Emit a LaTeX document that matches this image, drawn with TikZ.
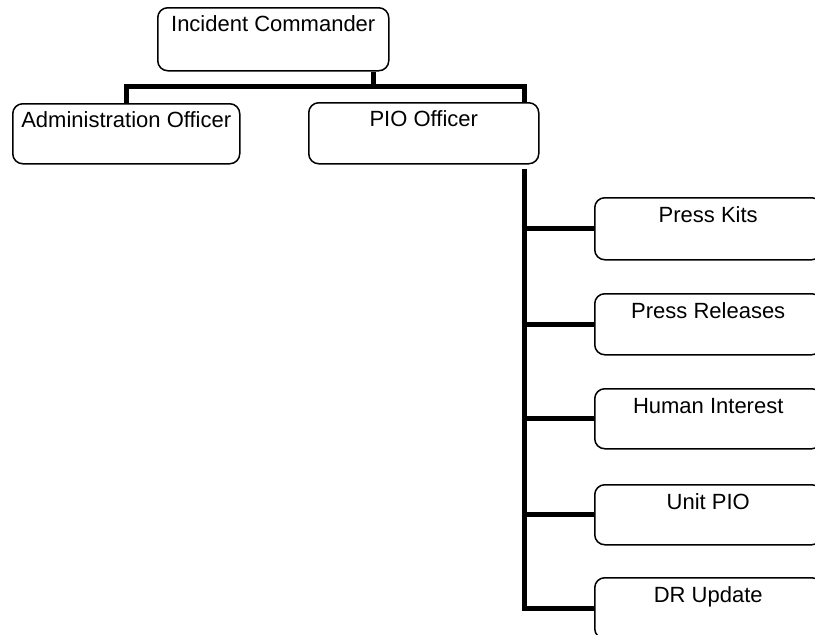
\documentclass[tikz,border=0pt]{standalone}
\usepackage{fontspec}
\setmainfont{Liberation Sans}
\begin{document}
\begin{tikzpicture}[x=1pt,y=-1pt,
  orgbox/.style={draw=black, line width=1.5pt, rounded corners=10pt,
    anchor=north west, inner sep=0pt, align=center,
    font=\fontsize{22}{24}\selectfont},
  bar/.style={line width=5pt, line cap=butt, line join=miter}]
  \useasboundingbox (0,0) rectangle (815,635);
  \clip (0,0) rectangle (815,635);

  % top level
  \node[orgbox, minimum width=231pt, minimum height=63pt, text height=24pt, text depth=39pt]
    (ic) at (157,7) {Incident Commander};

  % second level
  \node[orgbox, minimum width=227pt, minimum height=60pt, text height=24pt, text depth=36pt]
    (adm) at (12,103) {Administration Officer};
  \node[orgbox, minimum width=230pt, minimum height=61pt, text height=24pt, text depth=37pt]
    (pio) at (308,102) {PIO Officer};

  % PIO staff
  \node[orgbox, minimum width=227pt, minimum height=62pt, text height=25pt, text depth=37pt]
    (pk) at (594,197) {Press Kits};
  \node[orgbox, minimum width=227pt, minimum height=61pt, text height=25pt, text depth=36pt]
    (pr) at (594,293) {Press Releases};
  \node[orgbox, minimum width=227pt, minimum height=60pt, text height=25pt, text depth=35pt]
    (hi) at (594,388) {Human Interest};
  \node[orgbox, minimum width=227pt, minimum height=60pt, text height=25pt, text depth=35pt]
    (up) at (594,484) {Unit PIO};
  \node[orgbox, minimum width=227pt, minimum height=61pt, text height=25pt, text depth=36pt]
    (dr) at (594,577) {DR Update};

  % bus between the top two levels
  \coordinate (icdrop) at ([xshift=-16pt]ic.south east);
  \coordinate (piotop) at ([xshift=-15pt]pio.north east);
  \coordinate (bus) at (0,86);
  \draw[bar] (adm.north) |- (bus -| piotop) -- (piotop);
  \draw[bar] (icdrop) -- (icdrop |- bus);

  % trunk down to the PIO staff
  \coordinate (trunk) at ([xshift=-15pt,yshift=-4pt]pio.south east);
  \draw[bar] (trunk) |- (dr.west);
  \foreach \n in {pk,pr,hi,up}
    \draw[bar] (trunk |- \n.west) -- (\n.west);
\end{tikzpicture}
\end{document}
